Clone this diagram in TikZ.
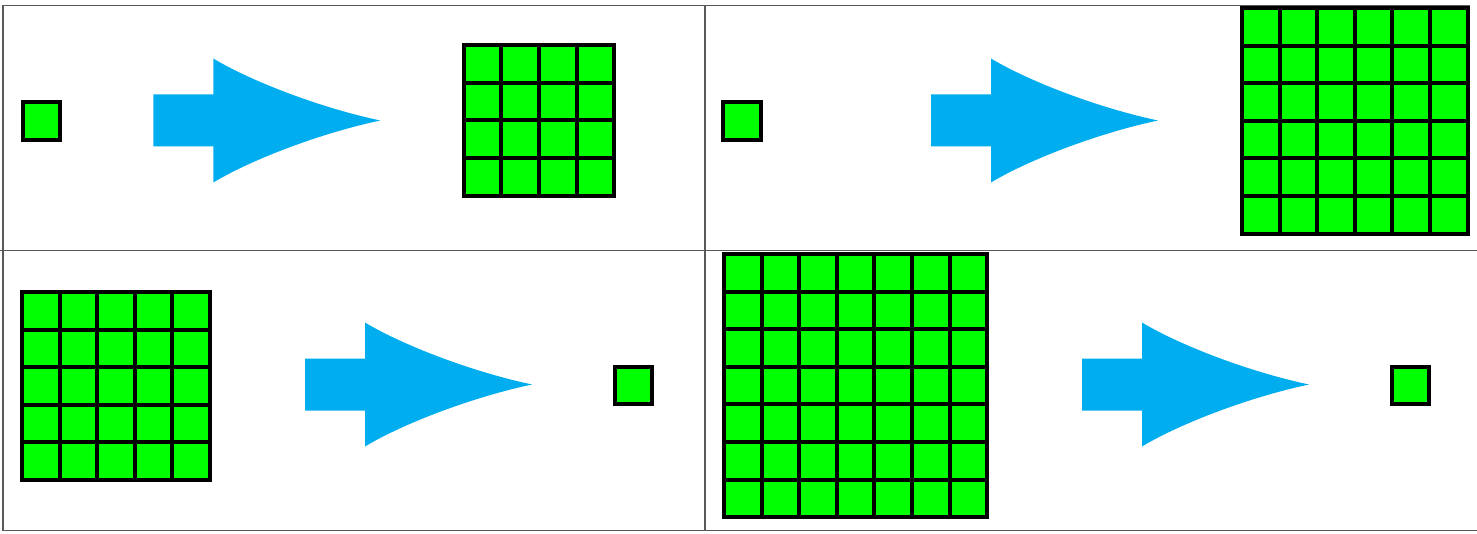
\documentclass[tikz,border=0pt]{standalone}
\usepackage{xcolor}
\usepackage{tikz}
\usetikzlibrary{calc}
\definecolor{pixgreen}{RGB}{0,255,0}
\definecolor{flowblue}{RGB}{0,174,239}
\tikzstyle{frame} = [draw=black!65, line width=1.3pt]
\tikzstyle{cell} = [fill=pixgreen, draw=black, line width=4pt]
\tikzstyle{flow} = [fill=flowblue, draw=none]
\newcommand{\cellsize}{37.6}
% n x n block of pixels, #1,#2 = top left corner
\newcommand{\pixgrid}[3]{%
  \foreach \i in {1,...,#3} {
    \foreach \j in {1,...,#3} {
      \draw[cell] ({#1+(\i-1)*\cellsize},{#2+(\j-1)*\cellsize}) rectangle ++(\cellsize,\cellsize);
    }
  }
}
% block arrow, #1,#2 = left end of shaft (middle)
\newcommand{\flowarrow}[2]{%
  \fill[flow] (#1,#2) ++(0,-26.5) -- ++(60,0) -- ++(0,-36)
    .. controls +(40,24) and +(-57,-12) .. ++(167,62)
    .. controls +(-57,12) and +(40,-24) .. ++(-167,62)
    -- ++(0,-36) -- ++(-60,0) -- cycle;
}

\begin{document}
\begin{tikzpicture}[x=1pt, y=-1pt]
  \useasboundingbox (0,0) rectangle (1477,534);
  % Table lines
  \draw[frame] (3,5.5) -- (1470,5.5);
  \draw[frame] (0,250.5) -- (1477,250.5);
  \draw[frame] (3,530.5) -- (1477,530.5);
  \draw[frame] (3,5.5) -- (3,530.5);
  \draw[frame] (705,5.5) -- (705,530.5);
  % Top left: 1 -> 4x4
  \pixgrid{22.5}{102.2}{1}
  \flowarrow{153.3}{121}
  \pixgrid{463.7}{45.3}{4}
  % Top right: 1 -> 6x6
  \pixgrid{723.2}{102.2}{1}
  \flowarrow{931}{121}
  \pixgrid{1242}{8}{6}
  % Bottom left: 5x5 -> 1
  \pixgrid{22}{292}{5}
  \flowarrow{305}{385}
  \pixgrid{614.7}{366.7}{1}
  % Bottom right: 7x7 -> 1
  \pixgrid{724}{254}{7}
  \flowarrow{1082}{385}
  \pixgrid{1391.7}{366.7}{1}
\end{tikzpicture}
\end{document}
